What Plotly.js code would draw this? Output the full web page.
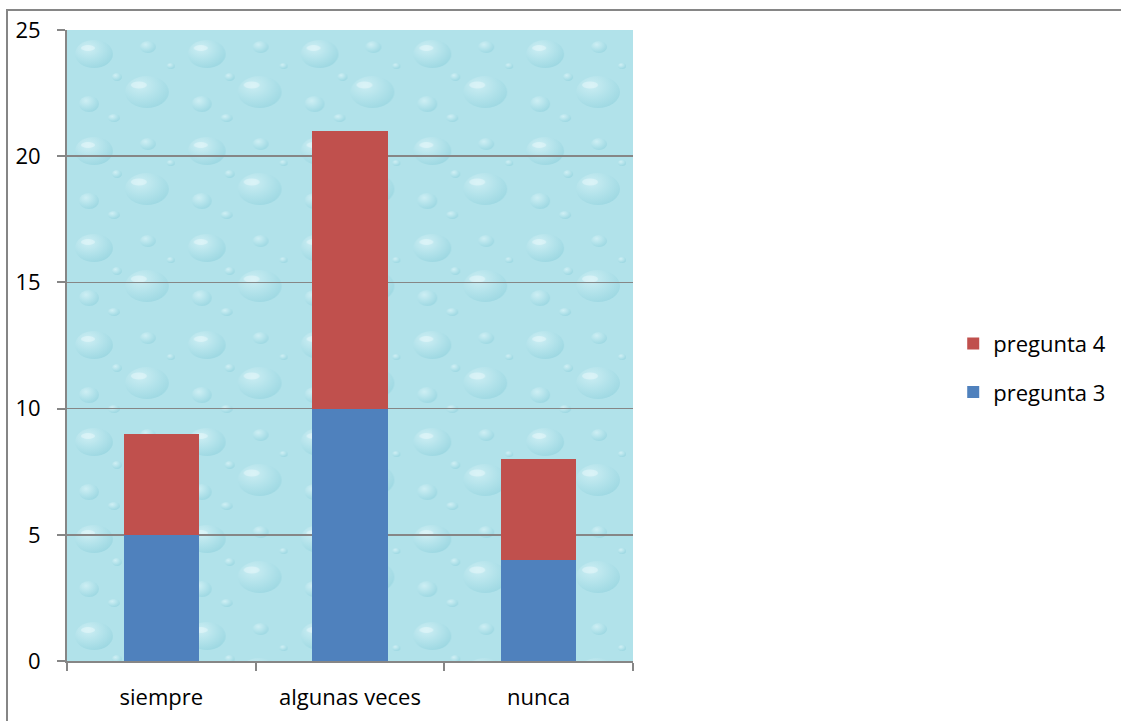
<!DOCTYPE html>
<html>
<head>
<meta charset="utf-8">
<script src="https://cdn.plot.ly/plotly-3.0.1.min.js"></script>
<style>
  html, body { margin: 0; padding: 0; background: #fff; }
  #wrap { position: relative; width: 1121px; height: 721px; }
  #chart { width: 1121px; height: 721px; }
  #frame { position: absolute; left: 6px; top: 9px; width: 1130px; height: 730px;
           border-left: 2px solid #868686; border-top: 2px solid #868686; pointer-events: none; }
</style>
</head>
<body>
<div id="wrap">
  <div id="chart"></div>
  <div id="frame"></div>
</div>
<script>
const categories = ["siempre", "algunas veces", "nunca"];
const pregunta3 = [5, 10, 4];
const pregunta4 = [4, 11, 4];
const yTicks = [0, 5, 10, 15, 20, 25];

// subtle water-drop texture for the plot background
const tile = `<svg xmlns="http://www.w3.org/2000/svg" width="567" height="631" viewBox="0 0 567 631">
<defs>
<radialGradient id="d" cx="0.35" cy="0.3" r="0.75">
<stop offset="0" stop-color="#e4f8fb"/><stop offset="0.55" stop-color="#b2e2ea"/><stop offset="1" stop-color="#8ccfdb"/>
</radialGradient>
<pattern id="p" width="113" height="97" patternUnits="userSpaceOnUse">
<rect width="113" height="97" fill="#b1e2ea"/>
<ellipse cx="27" cy="24" rx="19" ry="14" fill="url(#d)" opacity="0.55"/>
<ellipse cx="80" cy="62" rx="22" ry="16" fill="url(#d)" opacity="0.5"/>
<ellipse cx="81" cy="17" rx="8" ry="6" fill="url(#d)" opacity="0.55"/>
<ellipse cx="22" cy="74" rx="10" ry="8" fill="url(#d)" opacity="0.55"/>
<ellipse cx="50" cy="47" rx="5" ry="4" fill="url(#d)" opacity="0.6"/>
<ellipse cx="104" cy="36" rx="4" ry="3" fill="url(#d)" opacity="0.6"/>
<ellipse cx="47" cy="88" rx="6" ry="4" fill="url(#d)" opacity="0.6"/>
<ellipse cx="21" cy="18" rx="7" ry="3" fill="#eefcfe" opacity="0.45"/>
<ellipse cx="72" cy="55" rx="8" ry="3.5" fill="#eefcfe" opacity="0.45"/>
</pattern>
</defs>
<rect width="567" height="631" fill="url(#p)"/>
</svg>`;
const bgSrc = "data:image/svg+xml;charset=utf-8," + encodeURIComponent(tile);

const font = { family: "'Open Sans', Lato, sans-serif", size: 22, color: "#000" };

const traces = [
  { type: "bar", name: "pregunta 3", x: categories, y: pregunta3,
    marker: { color: "#4F81BD" }, width: 0.4, legend: "legend2", hoverinfo: "x+y+name" },
  { type: "bar", name: "pregunta 4", x: categories, y: pregunta4,
    marker: { color: "#C0504D" }, width: 0.4, legend: "legend", hoverinfo: "x+y+name" }
];

const layout = {
  width: 1121, height: 721,
  margin: { l: 67, r: 487, t: 30, b: 60, pad: 0 },
  barmode: "stack",
  paper_bgcolor: "#ffffff",
  plot_bgcolor: "#b1e2ea",
  font: font,
  showlegend: true,
  legend: { x: 1.563, y: 0.503, xanchor: "left", yanchor: "middle", font: font,
            bgcolor: "rgba(0,0,0,0)", itemwidth: 30 },
  legend2: { x: 1.563, y: 0.426, xanchor: "left", yanchor: "middle", font: font,
             bgcolor: "rgba(0,0,0,0)", itemwidth: 30 },
  xaxis: {
    type: "category",
    showline: true, linecolor: "#868686", linewidth: 2,
    ticks: "outside", ticklen: 8, tickwidth: 2, tickcolor: "#868686",
    tickson: "boundaries",
    ticklabelstandoff: 16,
    showgrid: false, zeroline: false,
    tickfont: font
  },
  yaxis: {
    range: [0, 25],
    tickvals: yTicks,
    showline: true, linecolor: "#868686", linewidth: 2,
    ticks: "outside", ticklen: 8, tickwidth: 2, tickcolor: "#868686",
    ticklabelstandoff: 12,
    showgrid: true, gridcolor: "#868686", gridwidth: 1.5,
    zeroline: false,
    tickfont: font
  },
  images: [{
    source: bgSrc, xref: "paper", yref: "paper", x: 0, y: 1,
    sizex: 1, sizey: 1, sizing: "stretch", layer: "below", xanchor: "left", yanchor: "top"
  }]
};

Plotly.newPlot("chart", traces, layout, { displayModeBar: false, staticPlot: true });
</script>
</body>
</html>
